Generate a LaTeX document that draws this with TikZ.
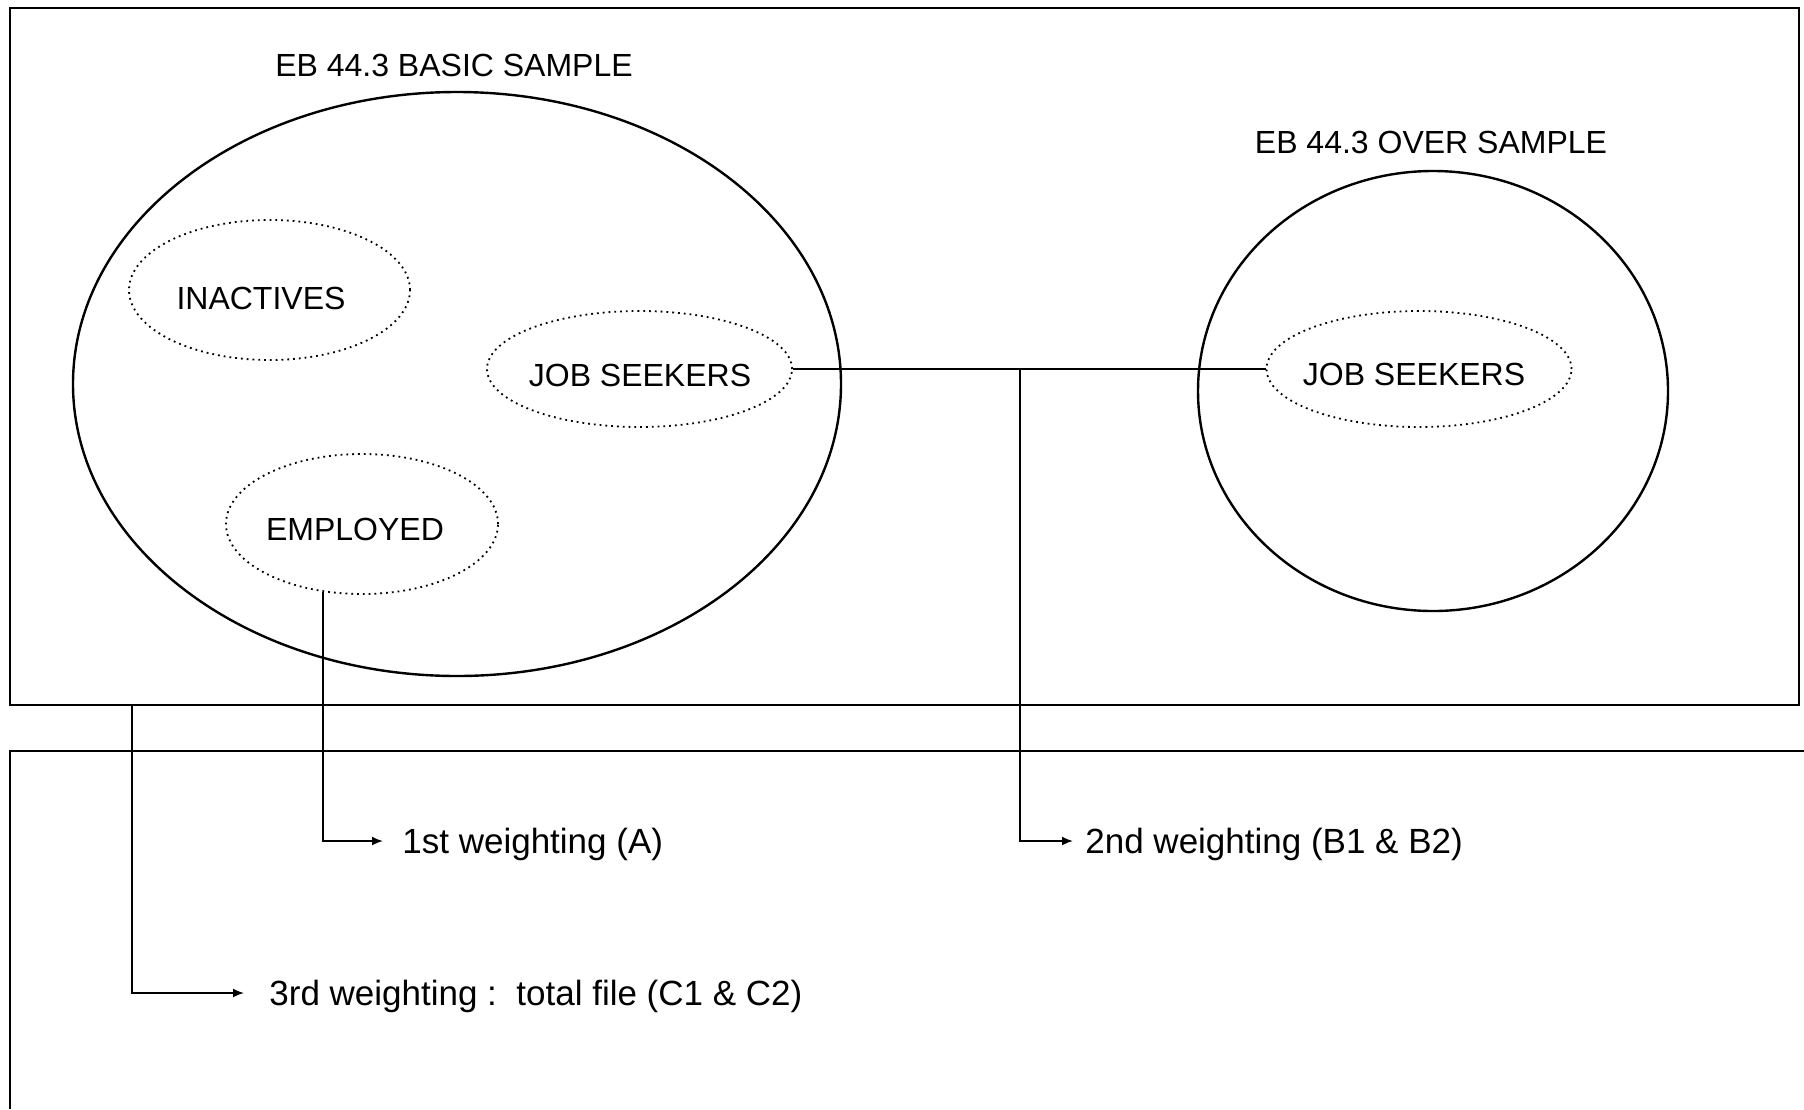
\documentclass[tikz,border=0pt]{standalone}
\usepackage{fontspec}
\setmainfont{Liberation Sans}
\usetikzlibrary{shapes.geometric,arrows.meta}
\begin{document}
\begin{tikzpicture}[x=0.5pt,y=-0.5pt,
  frame/.style={draw, line width=1pt},
  bigset/.style={draw, ellipse, line width=1.2pt, inner sep=0pt},
  subset/.style={draw, ellipse, dotted, line width=0.9pt, inner sep=0pt},
  caps/.style={font=\fontsize{16}{19}\selectfont, inner sep=0pt},
  wlabel/.style={font=\fontsize{17.5}{20}\selectfont, anchor=west, inner sep=0pt},
  conn/.style={line width=0.9pt},
  arr/.style={conn, -{Latex[length=5.5pt,width=4.5pt]}}]
\useasboundingbox (0,0) rectangle (1804,1109);
% frames
\draw[frame] (10,8) rectangle (1799,705);
\draw[frame] (1804,751) -- (10,751) -- (10,1109);
% sets
\node[bigset, minimum width=384pt, minimum height=292pt] (basic) at (457,384) {};
\node[caps] (basiclbl) at (454,65) {EB 44.3 BASIC SAMPLE};
\node[subset, minimum width=140.5pt, minimum height=70pt] (inact) at (269.5,290) {};
\node[caps] (inacttxt) at (261,298) {INACTIVES};
\node[subset, minimum width=152.5pt, minimum height=58pt] (js1) at (639.5,369) {};
\node[caps] (js1txt) at (640,375) {JOB SEEKERS};
\node[subset, minimum width=136pt, minimum height=70pt] (emp) at (362,524) {};
\node[caps] (emptxt) at (355,529) {EMPLOYED};
\node[bigset, minimum width=235pt, minimum height=220pt] (over) at (1433,391) {};
\node[caps] (overlbl) at (1431,142) {EB 44.3 OVER SAMPLE};
\node[subset, minimum width=152.5pt, minimum height=58pt] (js2) at (1419,369) {};
\node[caps] (js2txt) at (1414,374) {JOB SEEKERS};
% labels
\node[wlabel] (w1) at (402,844) {1st weighting (A)};
\node[wlabel] (w2) at (1085,844) {2nd weighting (B1 \& B2)};
\node[wlabel] (w3) at (269,996) {3rd weighting :\ \ total file (C1 \& C2)};
% coordinates
\coordinate (j) at (1020,369);
\coordinate (c3) at (132,705);
\coordinate (a1) at (383,841);
\coordinate (a2) at (1073,841);
\coordinate (a3) at (244,993);
% connectors
\draw[conn] (js1.east) -- (js2.west);
\draw[arr] (emp.240) |- (a1);
\draw[arr] (j) |- (a2);
\draw[arr] (c3) |- (a3);
\end{tikzpicture}
\end{document}
